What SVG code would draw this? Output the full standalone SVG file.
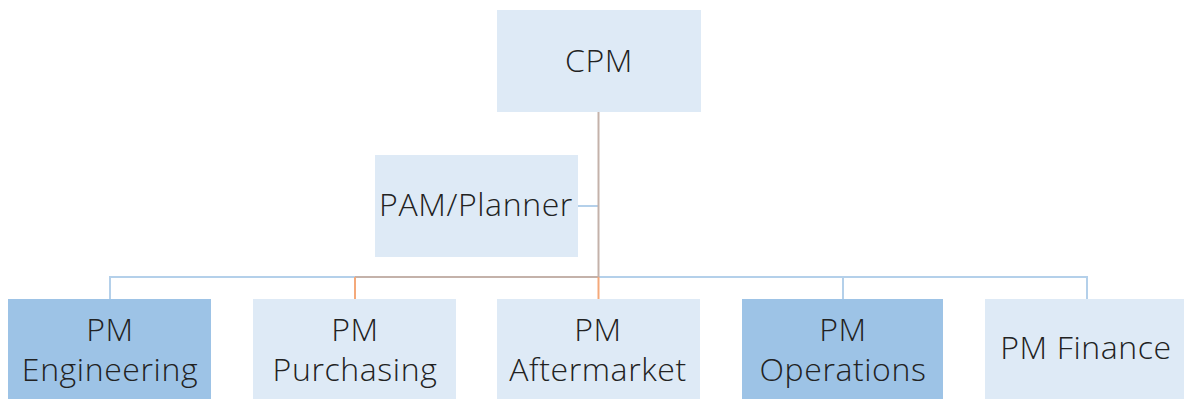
<svg xmlns="http://www.w3.org/2000/svg" width="1184" height="399" viewBox="0 0 1184 399">
<style>
.l{fill:#deeaf6}
.d{fill:#9dc3e6}
text{font-family:"Open Sans","Liberation Sans",sans-serif;font-weight:300;font-size:32px;letter-spacing:0.6px;fill:#222;text-anchor:middle}
.b{stroke:#b4d0ea;stroke-width:2;fill:none}
.o{stroke:#f4a97a;stroke-width:2;fill:none}
.g{stroke:#c4b2aa;stroke-width:2;fill:none}
</style>
<rect width="1184" height="399" fill="#fff"/>
<g id="connectors">
<polyline class="b" points="110,299 110,277 1087,277 1087,299"/>
<line class="b" x1="843" y1="277" x2="843" y2="299"/>
<line class="b" x1="578" y1="206" x2="598" y2="206"/>
<line class="g" x1="355" y1="277" x2="598" y2="277"/>
<line class="o" x1="355" y1="277" x2="355" y2="299"/>
<line class="o" x1="598.5" y1="277" x2="598.5" y2="299"/>
<line class="g" x1="598.5" y1="112" x2="598.5" y2="277"/>
</g>
<g id="cpm"><rect class="l" x="497" y="10" width="204" height="102"/><text x="599" y="72">CPM</text></g>
<g id="pam"><rect class="l" x="375" y="155" width="203" height="102"/><text x="476" y="216">PAM/Planner</text></g>
<g id="eng"><rect class="d" x="8" y="299" width="203" height="102"/><text x="110" y="341">PM</text><text x="110" y="381">Engineering</text></g>
<g id="pur"><rect class="l" x="253" y="299" width="203" height="102"/><text x="355" y="341">PM</text><text x="355" y="381">Purchasing</text></g>
<g id="aft"><rect class="l" x="497" y="299" width="203" height="102"/><text x="598" y="341">PM</text><text x="598" y="381">Aftermarket</text></g>
<g id="ops"><rect class="d" x="742" y="299" width="201" height="102"/><text x="843" y="341">PM</text><text x="843" y="381">Operations</text></g>
<g id="fin"><rect class="l" x="985" y="299" width="203" height="102"/><text x="1086" y="359">PM Finance</text></g>
</svg>
